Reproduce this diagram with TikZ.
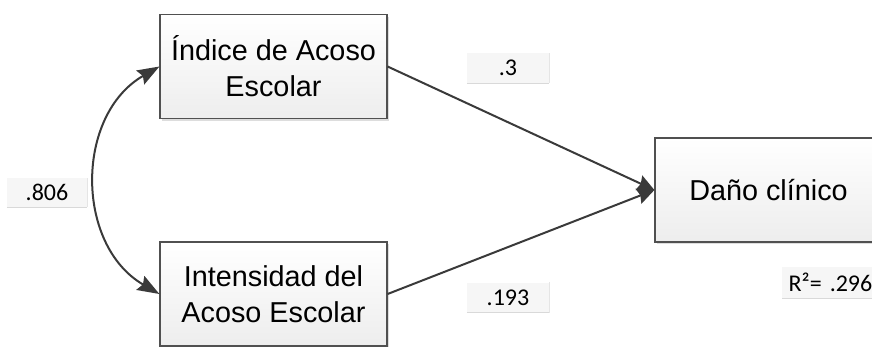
\documentclass[tikz,border=0pt]{standalone}
\usepackage{fontspec}
\setmainfont{Liberation Sans}
\newfontfamily\labfont{Carlito}
\usetikzlibrary{arrows.meta,shadows}
\definecolor{edgecol}{HTML}{3A3A3A}
\definecolor{boxline}{HTML}{505050}
\begin{document}
\begin{tikzpicture}[x=1pt,y=-1pt,
  varbox/.style={draw=boxline, line width=1.2pt, top color=white, bottom color=gray!14,
    minimum width=227pt, minimum height=104pt, align=center, inner sep=0pt,
    font=\fontsize{28.8}{36}\selectfont,
    drop shadow={shadow xshift=2pt, shadow yshift=-2pt, fill=gray!45, opacity=0.6}},
  labbox/.style={fill=gray!7, inner sep=0pt, font=\labfont\fontsize{24}{28}\selectfont},
  path/.style={draw=edgecol, line width=2pt},
  tip/.style={-{Stealth[length=17pt,width=16pt,inset=2pt]}},
  ctip/.style={{Stealth[length=22pt,width=16pt,inset=3pt]}-{Stealth[length=22pt,width=16pt,inset=3pt]}}
]
\useasboundingbox (0,0) rectangle (872,346);
\node[varbox] (b1) at (273.5,66.5) {Índice de Acoso\\Escolar};
\node[varbox] (b2) at (273.5,294) {Intensidad del\\Acoso Escolar};
\node[varbox] (b3) at (768.5,190) {Daño clínico};
% edges
\draw[path,tip] (b1.east) -- (b3.west);
\draw[path,tip] (b2.east) -- (b3.west);
\draw[path,ctip] (b1.west) .. controls (75,115) and (75,245) .. (b2.west);
% labels
\node[labbox, minimum width=82pt, minimum height=30pt] (l1) at (508,68) {.3};
\node[labbox, minimum width=82pt, minimum height=30pt] (l2) at (508,297.5) {.193};
\node[labbox, minimum width=80pt, minimum height=29pt] (l3) at (47,192.5) {.806};
\node[labbox, minimum width=100pt, minimum height=31pt, anchor=west, text width=95pt, align=left] (l4) at (782,282.5) {\hspace*{4pt}R²= .296};
\foreach \n in {l1,l2,l3,l4}{
  \draw[gray!30, line width=1.2pt] (\n.south west) -- (\n.south east);
  \draw[gray!20, line width=0.8pt] (\n.south east) -- (\n.north east);
}
\end{tikzpicture}
\end{document}
